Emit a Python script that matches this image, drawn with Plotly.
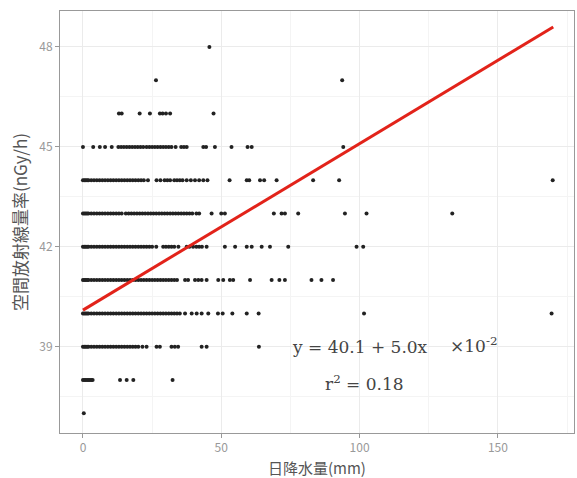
import plotly.graph_objects as go

# Daily rainfall (mm) values observed at each air dose rate level (nGy/h)
levels = [48, 47, 46, 45, 44, 43, 42, 41, 40, 39, 38, 37]

rain_48 = [45.7]
rain_47 = [26.4, 93.7]
rain_46 = [13, 14, 20.5, 24.2, 27.8, 28.8, 30, 31.5, 47.2]
rain_45 = [0, 3.7, 6.1, 8, 10.4, 12.8, 13.8, 14.8, 15.8, 16.8, 17.8, 18.8, 19.8, 20.8,
           21.8, 23, 24, 25, 26, 27, 28, 29, 30, 31, 32, 33.5, 35.5, 36.5, 37.5, 43.5,
           44.5, 47.7, 53.7, 59.5, 61, 94.1]
rain_44 = [0, 0.5, 1, 1.5, 2, 3, 4, 5, 6, 7, 8, 9, 10, 11, 12, 13, 14, 15, 16, 17, 18,
           19, 20, 21, 22, 23.5, 26.6, 28, 29.5, 30.5, 31.5, 33, 34, 35, 36, 37.5, 39,
           40.5, 42, 43.5, 45, 53, 59.2, 60.1, 64, 65.5, 70, 83.2, 92.6, 169.8]
rain_43 = [0, 0.5, 1, 1.5, 2, 3, 4, 5, 6, 7, 8, 9, 10, 11, 12, 13, 14, 15.5, 16.5, 17.5,
           18.5, 19.5, 20.5, 21.5, 22.5, 23.5, 24.5, 25.5, 26.5, 27.5, 28.5, 29.5, 30.5,
           31.5, 32.5, 33.5, 34.5, 35.5, 36.5, 37.5, 38.5, 39.5, 41, 42, 46.5, 50, 51.3,
           69, 71.8, 73, 77.8, 94.7, 102.5, 133.5]
rain_42 = [0, 0.5, 1, 1.5, 2, 3, 4, 5, 6, 7, 8, 9, 10, 11, 12, 13, 14, 15, 16, 17, 18,
           19, 20, 21, 22, 23, 24, 25, 26.5, 29, 30, 31, 32, 33, 34.5, 37.5, 38.5, 39.8,
           41, 42, 43, 44.7, 51.3, 55, 59.2, 61, 64.6, 67.6, 74.2, 98.9, 101.3]
rain_41 = [0, 0.5, 1, 1.5, 2, 3, 4, 5, 6, 7, 8, 9, 10, 11, 12, 13, 14, 15, 16, 17, 18,
           19, 20, 21, 22, 23, 24, 25, 26, 27, 28, 29, 30, 31, 32, 33, 34, 36.9, 38,
           40.5, 41.7, 42.9, 44.7, 48.9, 50.7, 53.1, 54.3, 60.4, 68.2, 71, 73, 82.6,
           86.2, 90.4]
rain_40 = [0, 0.5, 1, 1.5, 2, 3, 4, 5, 6, 7, 8, 9, 10, 11, 12, 13, 14, 15, 16, 17, 18,
           19, 20, 21, 22, 23, 24, 25, 26, 27, 28, 29, 30, 31, 32, 33, 34, 35, 36.9,
           39.3, 41.1, 42.9, 45.3, 48.8, 50.5, 54, 59.2, 63.5, 101.6, 169.4]
rain_39 = [0, 0.5, 1, 1.5, 2, 3, 4, 5, 6, 7, 8, 9, 10, 11, 12, 13, 14, 15, 16, 17, 18,
           19, 20, 21.5, 23, 26.6, 27.8, 32, 33.2, 34.4, 42.9, 44.7, 63.6]
rain_38 = [0, 0.5, 1, 1.5, 2, 2.5, 3, 3.5, 13.4, 15.8, 18.2, 32.4]
rain_37 = [0.3]

rows = [rain_48, rain_47, rain_46, rain_45, rain_44, rain_43, rain_42, rain_41,
        rain_40, rain_39, rain_38, rain_37]

# Regression result
intercept = 40.1
slope = 0.050
fit_x = [0, 170]
r2_text = "r<sup>2</sup> = 0.18"
eq_text = "y = 40.1 + 5.0x"
scale_text = "×10<sup>-2</sup>"
x_title = "日降水量(mm)"
y_title = "空間放射線量率(nGy/h)"

xs, ys = [], []
for lev, r in zip(levels, rows):
    xs.extend(r)
    ys.extend([lev] * len(r))

fig = go.Figure()
fig.add_trace(go.Scatter(
    x=xs, y=ys, mode="markers",
    marker=dict(size=4, color="#222222", line=dict(width=0)),
    showlegend=False, hoverinfo="skip"))
fig.add_trace(go.Scatter(
    x=fit_x, y=[intercept + slope * v for v in fit_x], mode="lines",
    line=dict(color="#e2231a", width=3), showlegend=False, hoverinfo="skip"))

ann_font = dict(family="DejaVu Serif, Liberation Serif, serif", size=17, color="#444444")
fig.add_annotation(x=74.8, y=39.0, xref="x", yref="y", text=eq_text, showarrow=False,
                   xanchor="left", yanchor="middle", font=ann_font)
fig.add_annotation(x=131.9, y=39.05, xref="x", yref="y", text=scale_text, showarrow=False,
                   xanchor="left", yanchor="middle", font=ann_font)
fig.add_annotation(x=86.7, y=37.9, xref="x", yref="y", text=r2_text, showarrow=False,
                   xanchor="left", yanchor="middle", font=ann_font)

# x-axis title placed below the tick labels
fig.add_annotation(x=0.5, y=0, xref="paper", yref="paper", text=x_title, showarrow=False,
                   xanchor="center", yanchor="middle", yshift=-34,
                   font=dict(family="Noto Sans CJK JP, sans-serif", size=15, color="#555555"))

tick_font = dict(family="Noto Sans CJK JP, Noto Sans, sans-serif", size=12, color="#999999")

fig.update_xaxes(
    range=[-8.3, 177.5], tickvals=[0, 50, 100, 150], ticktext=["0", "50", "100", "150"],
    ticks="outside", ticklen=4, tickcolor="#999999", tickwidth=1,
    showgrid=True, gridcolor="#ebebeb", gridwidth=1,
    minor=dict(tickvals=[25, 75, 125, 175], showgrid=True, gridcolor="#f4f4f4", gridwidth=0.8),
    showline=True, linecolor="#999999", linewidth=1, mirror=True, zeroline=False,
    tickfont=tick_font, automargin=False)
fig.update_yaxes(
    range=[36.41, 49.08], tickvals=[39, 42, 45, 48], ticktext=["39", "42", "45", "48"],
    ticks="outside", ticklen=4, tickcolor="#999999", tickwidth=1,
    showgrid=True, gridcolor="#ebebeb", gridwidth=1,
    minor=dict(tickvals=[37.5, 40.5, 43.5, 46.5], showgrid=True, gridcolor="#f4f4f4", gridwidth=0.8),
    showline=True, linecolor="#999999", linewidth=1, mirror=True, zeroline=False,
    tickfont=tick_font,
    title=dict(text=y_title, standoff=7,
               font=dict(family="Noto Sans CJK JP, sans-serif", size=17, color="#555555")))

fig.update_layout(
    width=577, height=478,
    margin=dict(l=60, r=3, t=11, b=45),
    paper_bgcolor="white", plot_bgcolor="white",
)

fig.write_html("out.html")
